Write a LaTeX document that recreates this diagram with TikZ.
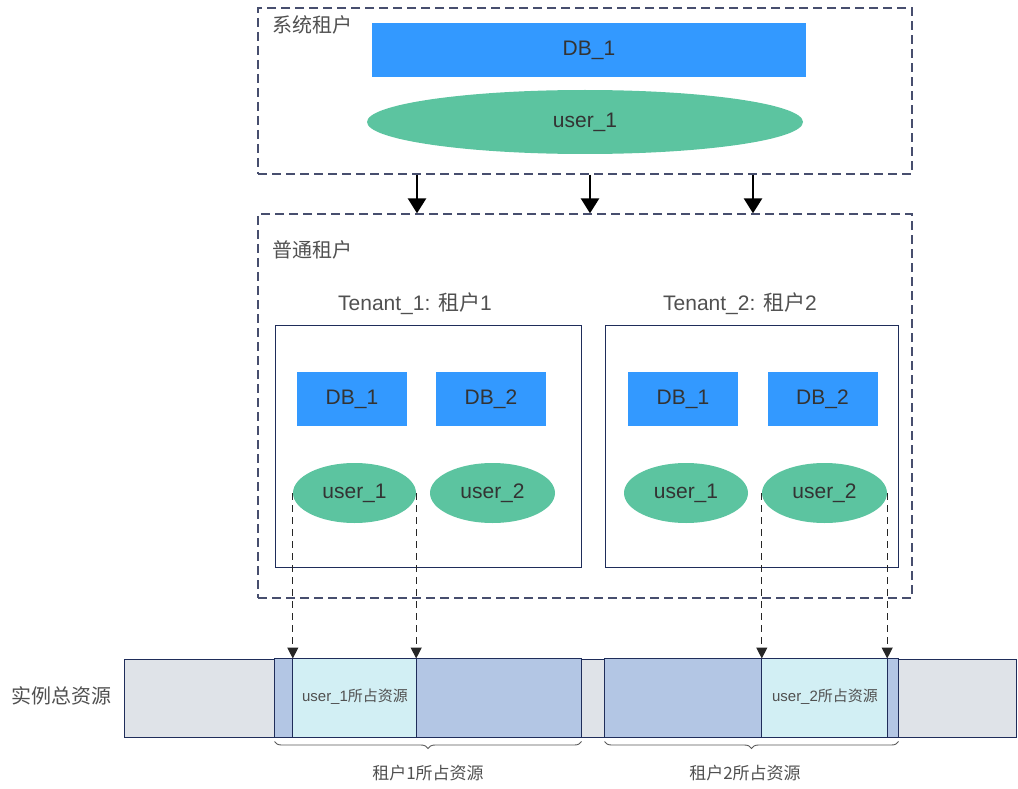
\documentclass[tikz,border=0pt]{standalone}
\usepackage{fontspec}
\setmainfont{Liberation Sans}
\newfontfamily\cjk{Noto Sans CJK SC}
\usetikzlibrary{arrows.meta,shapes.geometric,decorations.pathreplacing}
\definecolor{dbblue}{HTML}{3399FF}
\definecolor{usergreen}{HTML}{5CC4A0}
\definecolor{framegray}{HTML}{474E6E}
\definecolor{navy}{HTML}{1F2D5A}
\definecolor{resgray}{HTML}{DFE3E8}
\definecolor{resblue}{HTML}{B3C6E4}
\definecolor{rescyan}{HTML}{D2EFF4}
\definecolor{txtgray}{HTML}{505050}
\begin{document}
\begin{tikzpicture}
  [x=1pt,y=-1pt,
   frame/.style={rectangle,draw=framegray,line width=1.3pt,dash pattern=on 9pt off 5pt,inner sep=0pt},
   tenantbox/.style={rectangle,draw=navy,line width=1pt,inner sep=0pt,minimum height=242pt},
   db/.style={rectangle,fill=dbblue,text=black!80,inner sep=0pt,minimum width=110pt,minimum height=54pt,font=\fontsize{21}{24}\selectfont},
   user/.style={ellipse,fill=usergreen,text=black!80,inner sep=0pt,minimum width=124pt,minimum height=60pt,font=\fontsize{21}{24}\selectfont},
   label/.style={text=txtgray,inner sep=0pt,font=\cjk\fontsize{20}{24}\selectfont},
   seg/.style={draw=navy,line width=1pt},
   bigarrow/.style={line width=2.6pt,-{Triangle[width=18pt,length=15pt]}},
   dasharrow/.style={line width=1.3pt,draw=black!85,dash pattern=on 7pt off 5pt,-{Triangle[width=11pt,length=11pt]}},
   bracket/.style={draw=black!65,line width=0.9pt,decorate,decoration={brace,mirror,amplitude=7pt,raise=4pt}}]
  \useasboundingbox (0,0) rectangle (1018,789);

  % system tenant
  \node (sys)[frame,minimum width=654pt,minimum height=166pt] at (585,91) {};
  \node (syslab)[label,anchor=west] at (272,25) {系统租户};
  \node (sysdb)[db,minimum width=434pt] at (589,50) {DB\_1};
  \node (sysuser)[user,minimum width=436pt,minimum height=64pt] at (585,122) {user\_1};

  % normal tenants
  \node (norm)[frame,minimum width=654pt,minimum height=384pt] at (585,406) {};
  \node (normlab)[label,anchor=west] at (272,250) {普通租户};
  \node (t1lab)[text=txtgray,font=\fontsize{21}{24}\selectfont] at (415,304) {Tenant\_1: {\cjk 租户}1};
  \node (t2lab)[text=txtgray,font=\fontsize{21}{24}\selectfont] at (740,304) {Tenant\_2: {\cjk 租户}2};
  \node (t1)[tenantbox,minimum width=306pt] at (428,446) {};
  \node (t2)[tenantbox,minimum width=293pt] at (751.5,446) {};
  \node (t1db1)[db] at (352,399) {DB\_1};
  \node (t1db2)[db] at (491,399) {DB\_2};
  \node (t2db1)[db] at (683,399) {DB\_1};
  \node (t2db2)[db] at (822.5,399) {DB\_2};
  \node (t1u1)[user,minimum width=123pt] at (354.5,493) {user\_1};
  \node (t1u2)[user,minimum width=125pt] at (492.5,493) {user\_2};
  \node (t2u1)[user] at (686,493) {user\_1};
  \node (t2u2)[user,minimum width=125pt] at (824.5,493) {user\_2};

  % instance resources
  \node (total)[label] at (62,696) {实例总资源};
  \node (bar)[rectangle,seg,fill=resgray,minimum width=892pt,minimum height=78pt,inner sep=0pt] at (570,698) {};
  \draw[seg,fill=resblue] (t1.west |- bar.north) rectangle (t1.east |- bar.south);
  \draw[seg,fill=resblue] (t2.west |- bar.north) rectangle (t2.east |- bar.south);
  \draw[seg,fill=rescyan] (t1u1.west |- bar.north) rectangle (t1u1.east |- bar.south);
  \draw[seg,fill=rescyan] (t2u2.west |- bar.north) rectangle (t2u2.east |- bar.south);
  \node (res1)[text=txtgray,font=\fontsize{15}{18}\selectfont] at (355,697) {user\_1{\cjk 所占资源}};
  \node (res2)[text=txtgray,font=\fontsize{15}{18}\selectfont] at (825,697) {user\_2{\cjk 所占资源}};
  \draw[bracket] (t1.west |- bar.south) -- (t1.east |- bar.south);
  \draw[bracket] (t2.west |- bar.south) -- (t2.east |- bar.south);
  \node (sum1)[label,font=\cjk\fontsize{17}{20}\selectfont] at (428,773) {租户1所占资源};
  \node (sum2)[label,font=\cjk\fontsize{17}{20}\selectfont] at (745,773) {租户2所占资源};

  \foreach \i/\x in {1/417,2/590,3/753}
    \coordinate (a\i) at (\x,0);
  \foreach \i in {1,2,3}
    \draw[bigarrow] (sys.south -| a\i) -- (norm.north -| a\i);
  \foreach \u/\s in {t1u1/west,t1u1/east,t2u2/west,t2u2/east}
    \draw[dasharrow] (\u.\s) -- (\u.\s |- bar.north);
\end{tikzpicture}
\end{document}
